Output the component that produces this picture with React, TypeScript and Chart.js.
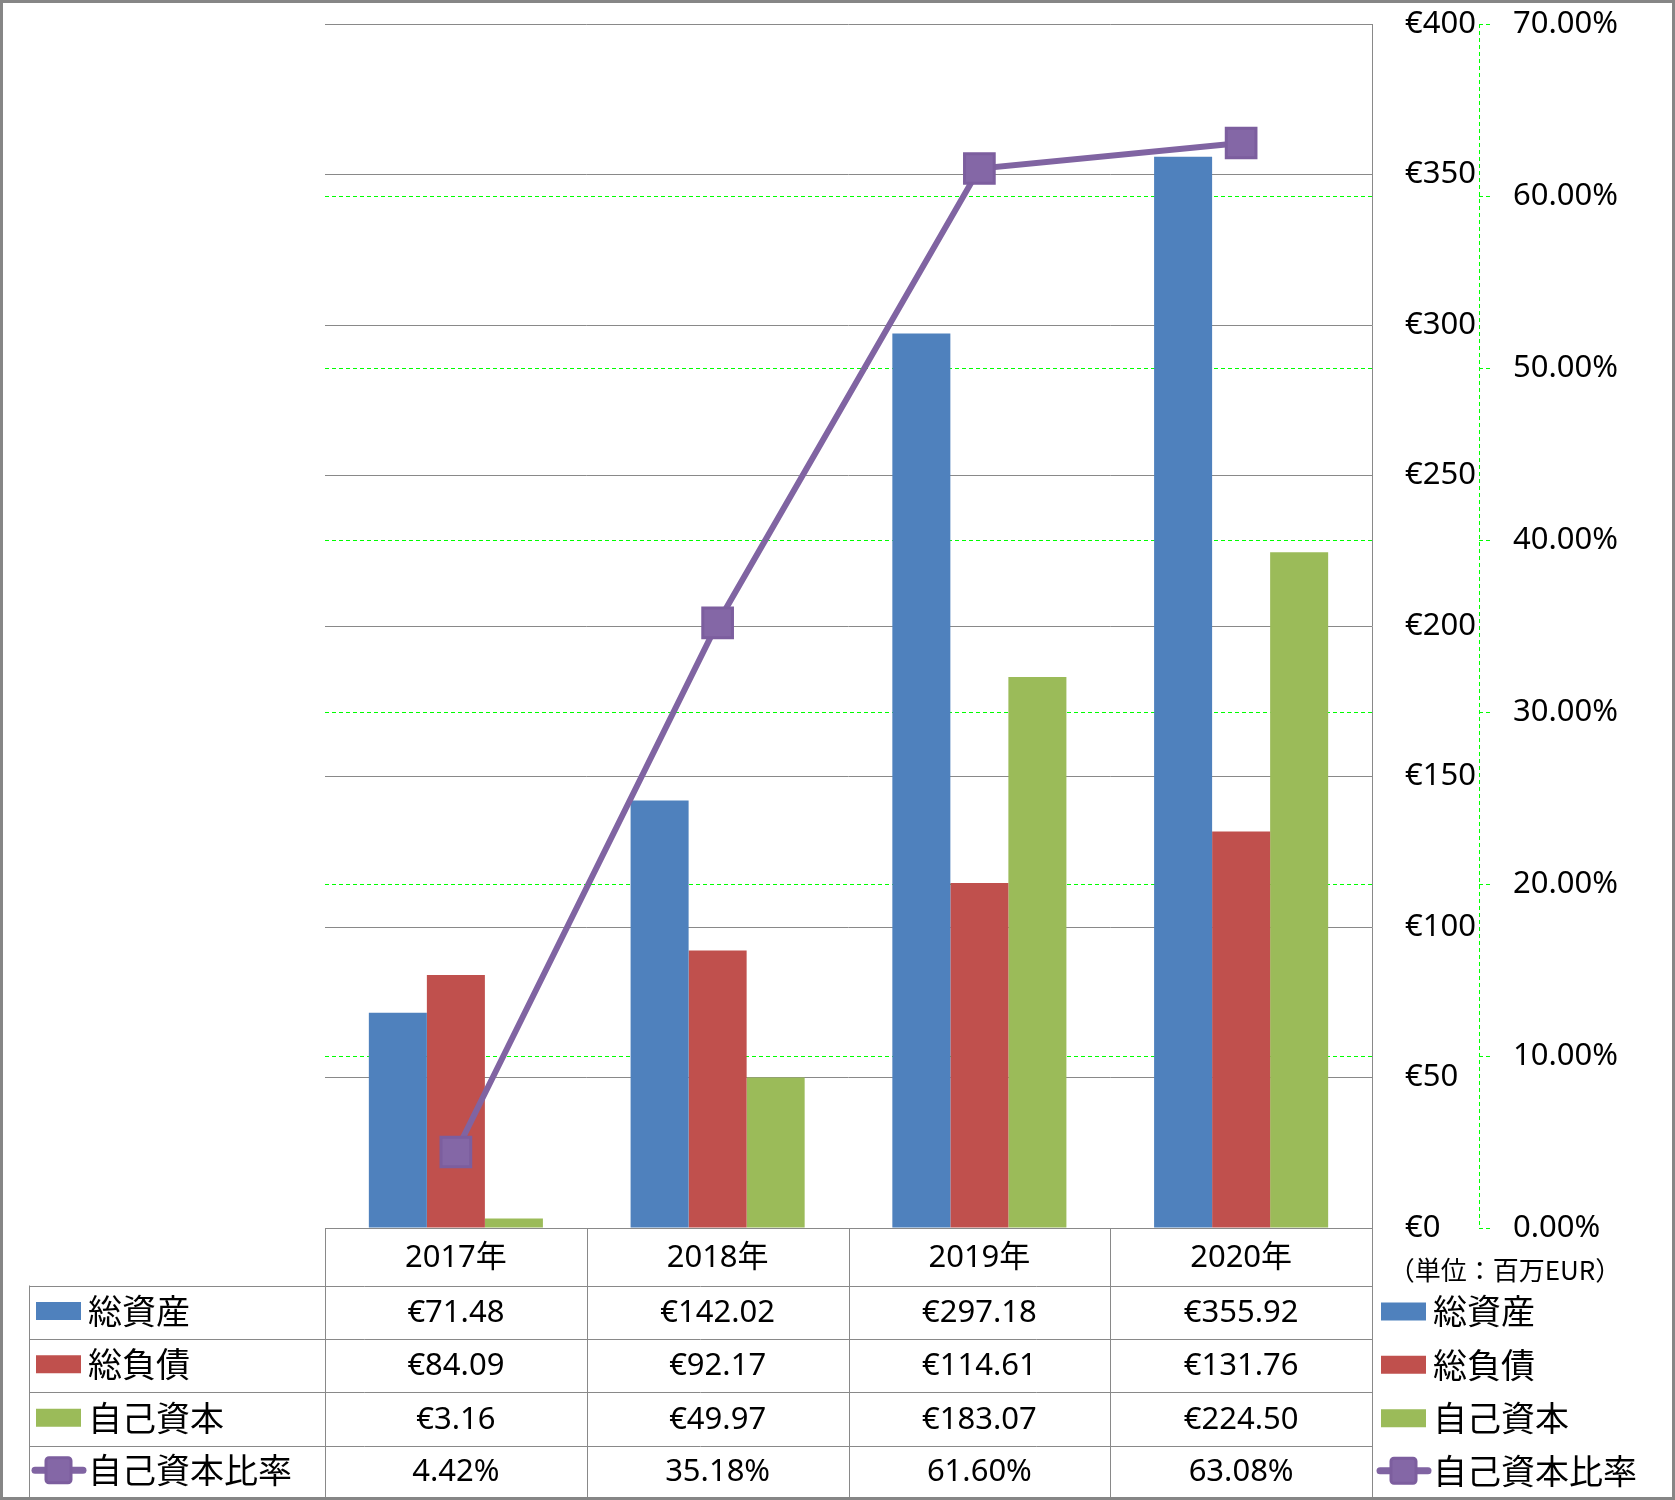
import React, { useEffect, useRef } from 'react';
import { Chart, registerables } from 'chart.js';

Chart.register(...registerables);

// ---- data ----
const categories = ['2017年', '2018年', '2019年', '2020年'];
const totalAssets = [71.48, 142.02, 297.18, 355.92];
const totalLiabilities = [84.09, 92.17, 114.61, 131.76];
const equity = [3.16, 49.97, 183.07, 224.5];
const equityRatio = [4.42, 35.18, 61.6, 63.08];
const seriesNames = ['総資産', '総負債', '自己資本', '自己資本比率'];
const unitLabel = '（単位：百万EUR）';
const euroAxis = { min: 0, max: 400, step: 50 };
const pctAxis = { min: 0, max: 70, step: 10 };

// ---- styles ----
const BLUE = '#4F81BD';
const RED = '#C0504D';
const GREEN_BAR = '#9BBB59';
const PURPLE = '#8064A2';
const PURPLE_FILL = '#8467A6';
const PURPLE_EDGE = '#7C5E9E';
const GRID_GRAY = '#898989';
const GRID_GREEN = '#00FF00';
const LATIN_FONT = '"Noto Sans", "Noto Sans CJK JP", sans-serif';
const CJK_FONT = '"Noto Sans CJK JP", "Noto Sans", sans-serif';

const euro = (v: number) => '€' + v.toFixed(2);
const pct = (v: number) => v.toFixed(2) + '%';

const tablePlugin = {
  id: 'dataTable',
  afterDraw(chart: any) {
    const { ctx, chartArea: area, scales } = chart;
    const xs = scales.x;
    const y1 = scales.y1;
    const n = categories.length;
    const colW = (xs.right - xs.left) / n;
    const edges: number[] = [];
    for (let i = 0; i < n; i++) edges.push(xs.getPixelForValue(i) - colW / 2);
    edges.push(xs.getPixelForValue(n - 1) + colW / 2);
    const top = area.bottom;
    const rows = [top, top + 57.5, top + 110.5, top + 164, top + 217.5, top + 269];
    const tableLeft = 29;
    const px = (v: number) => Math.round(v) + 0.5;

    ctx.save();
    // green dashed secondary axis line
    ctx.strokeStyle = GRID_GREEN;
    ctx.lineWidth = 1;
    ctx.setLineDash([4, 3]);
    ctx.beginPath();
    ctx.moveTo(px(y1.left), area.top);
    ctx.lineTo(px(y1.left), area.bottom);
    ctx.stroke();
    ctx.setLineDash([]);

    // table grid
    ctx.strokeStyle = GRID_GRAY;
    ctx.lineWidth = 1;
    ctx.beginPath();
    ctx.moveTo(edges[0], px(rows[0]));
    ctx.lineTo(edges[n], px(rows[0]));
    for (let r = 1; r <= 4; r++) {
      ctx.moveTo(tableLeft, px(rows[r]));
      ctx.lineTo(edges[n], px(rows[r]));
    }
    for (const e of edges) {
      ctx.moveTo(px(e), rows[0]);
      ctx.lineTo(px(e), rows[5]);
    }
    ctx.moveTo(px(tableLeft), rows[1]);
    ctx.lineTo(px(tableLeft), rows[5]);
    ctx.stroke();

    // outer frame
    ctx.strokeStyle = '#868686';
    ctx.lineWidth = 3;
    ctx.strokeRect(1.5, 1.5, chart.width - 3, chart.height - 3);

    // table text
    ctx.fillStyle = '#000';
    ctx.textAlign = 'center';
    ctx.textBaseline = 'middle';
    ctx.font = '31px ' + LATIN_FONT;
    categories.forEach((c, i) => ctx.fillText(c, xs.getPixelForValue(i), (rows[0] + rows[1]) / 2 + 1));
    const rowValues = [
      totalAssets.map(euro),
      totalLiabilities.map(euro),
      equity.map(euro),
      equityRatio.map(pct),
    ];
    rowValues.forEach((vals, r) =>
      vals.forEach((v, i) => ctx.fillText(v, xs.getPixelForValue(i), (rows[r + 1] + rows[r + 2]) / 2 + 1))
    );

    // legend keys
    const colors = [BLUE, RED, GREEN_BAR];
    const drawKey = (x0: number, cy: number, idx: number) => {
      if (idx < 3) {
        ctx.fillStyle = colors[idx];
        ctx.fillRect(x0, cy - 9, 45, 18);
      } else {
        ctx.strokeStyle = PURPLE;
        ctx.lineWidth = 7;
        ctx.lineCap = 'round';
        ctx.beginPath();
        ctx.moveTo(x0 - 1, cy);
        ctx.lineTo(x0 + 47, cy);
        ctx.stroke();
        ctx.lineCap = 'butt';
        ctx.fillStyle = PURPLE_FILL;
        ctx.strokeStyle = PURPLE_EDGE;
        ctx.lineWidth = 3;
        ctx.beginPath();
        const s = 25;
        const cx = x0 + 22.5;
        if ((ctx as any).roundRect) (ctx as any).roundRect(cx - s / 2, cy - s / 2, s, s, 3);
        else ctx.rect(cx - s / 2, cy - s / 2, s, s);
        ctx.fill();
        ctx.stroke();
      }
      ctx.fillStyle = '#000';
      ctx.textAlign = 'left';
      ctx.textBaseline = 'middle';
      ctx.font = '34px ' + CJK_FONT;
      ctx.fillText(seriesNames[idx], x0 + 52, cy);
    };
    for (let r = 0; r < 4; r++) {
      const cy = (rows[r + 1] + rows[r + 2]) / 2 - 1;
      drawKey(36, cy, r);
      drawKey(1381, cy + 0.5, r);
    }

    // unit label
    ctx.fillStyle = '#000';
    ctx.textAlign = 'center';
    ctx.textBaseline = 'middle';
    ctx.font = '26px ' + CJK_FONT;
    ctx.fillText(unitLabel, 1505, 1270);
    ctx.restore();
  },
};

export default function App() {
  const ref = useRef<HTMLCanvasElement>(null);
  useEffect(() => {
    const chart = new Chart(ref.current as HTMLCanvasElement, {
      type: 'bar',
      data: {
        labels: categories,
        datasets: [
          {
            type: 'line',
            label: seriesNames[3],
            data: equityRatio,
            yAxisID: 'y1',
            order: 0,
            borderColor: PURPLE,
            borderWidth: 6,
            fill: false,
            tension: 0,
            pointStyle: 'rect',
            pointRadius: 21,
            pointHoverRadius: 21,
            pointBackgroundColor: PURPLE_FILL,
            pointBorderColor: PURPLE_EDGE,
            pointBorderWidth: 3,
          } as any,
          { label: seriesNames[0], data: totalAssets, backgroundColor: BLUE, yAxisID: 'y', order: 1 },
          { label: seriesNames[1], data: totalLiabilities, backgroundColor: RED, yAxisID: 'y', order: 1 },
          { label: seriesNames[2], data: equity, backgroundColor: GREEN_BAR, yAxisID: 'y', order: 1 },
        ],
      },
      options: {
        animation: false,
        responsive: false,
        layout: { padding: { left: 325, top: 22, right: 10, bottom: 272 } },
        plugins: { legend: { display: false }, tooltip: { enabled: false } },
        datasets: { bar: { barPercentage: 1, categoryPercentage: 0.665 } },
        scales: {
          x: { display: false, offset: true },
          y: {
            position: 'right',
            weight: 0,
            min: euroAxis.min,
            max: euroAxis.max,
            ticks: {
              stepSize: euroAxis.step,
              padding: 33,
              color: '#000',
              font: { family: LATIN_FONT, size: 31 },
              callback: (v: any) => '€' + v,
            },
            grid: { color: GRID_GRAY, lineWidth: 1, drawTicks: false },
            border: { display: true, color: GRID_GRAY, width: 1 },
            afterFit: (s: any) => {
              s.width = 107;
              s.paddingTop = 0;
              s.paddingBottom = 0;
            },
          },
          y1: {
            position: 'right',
            weight: 1,
            min: pctAxis.min,
            max: pctAxis.max,
            ticks: {
              stepSize: pctAxis.step,
              padding: 22,
              color: '#000',
              font: { family: LATIN_FONT, size: 31 },
              callback: (v: any) => Number(v).toFixed(2) + '%',
            },
            grid: {
              color: (c: any) =>
                c.tick && (c.tick.value === pctAxis.min || c.tick.value === pctAxis.max) ? 'rgba(0,0,0,0)' : GRID_GREEN,
              lineWidth: 1,
              drawTicks: true,
              tickLength: 12,
              tickColor: GRID_GREEN,
              tickBorderDash: [4, 3],
            },
            border: { display: false, dash: [4, 3] },
            afterFit: (s: any) => {
              s.width = 186;
              s.paddingTop = 0;
              s.paddingBottom = 0;
            },
          },
        } as any,
      },
      plugins: [tablePlugin],
    });
    return () => chart.destroy();
  }, []);
  return (
    <div style={{ position: 'fixed', left: 0, top: 0, width: 1675, height: 1500, background: '#fff' }}>
      <canvas ref={ref} width={1675} height={1500} style={{ display: 'block', width: 1675, height: 1500 }} />
    </div>
  );
}
